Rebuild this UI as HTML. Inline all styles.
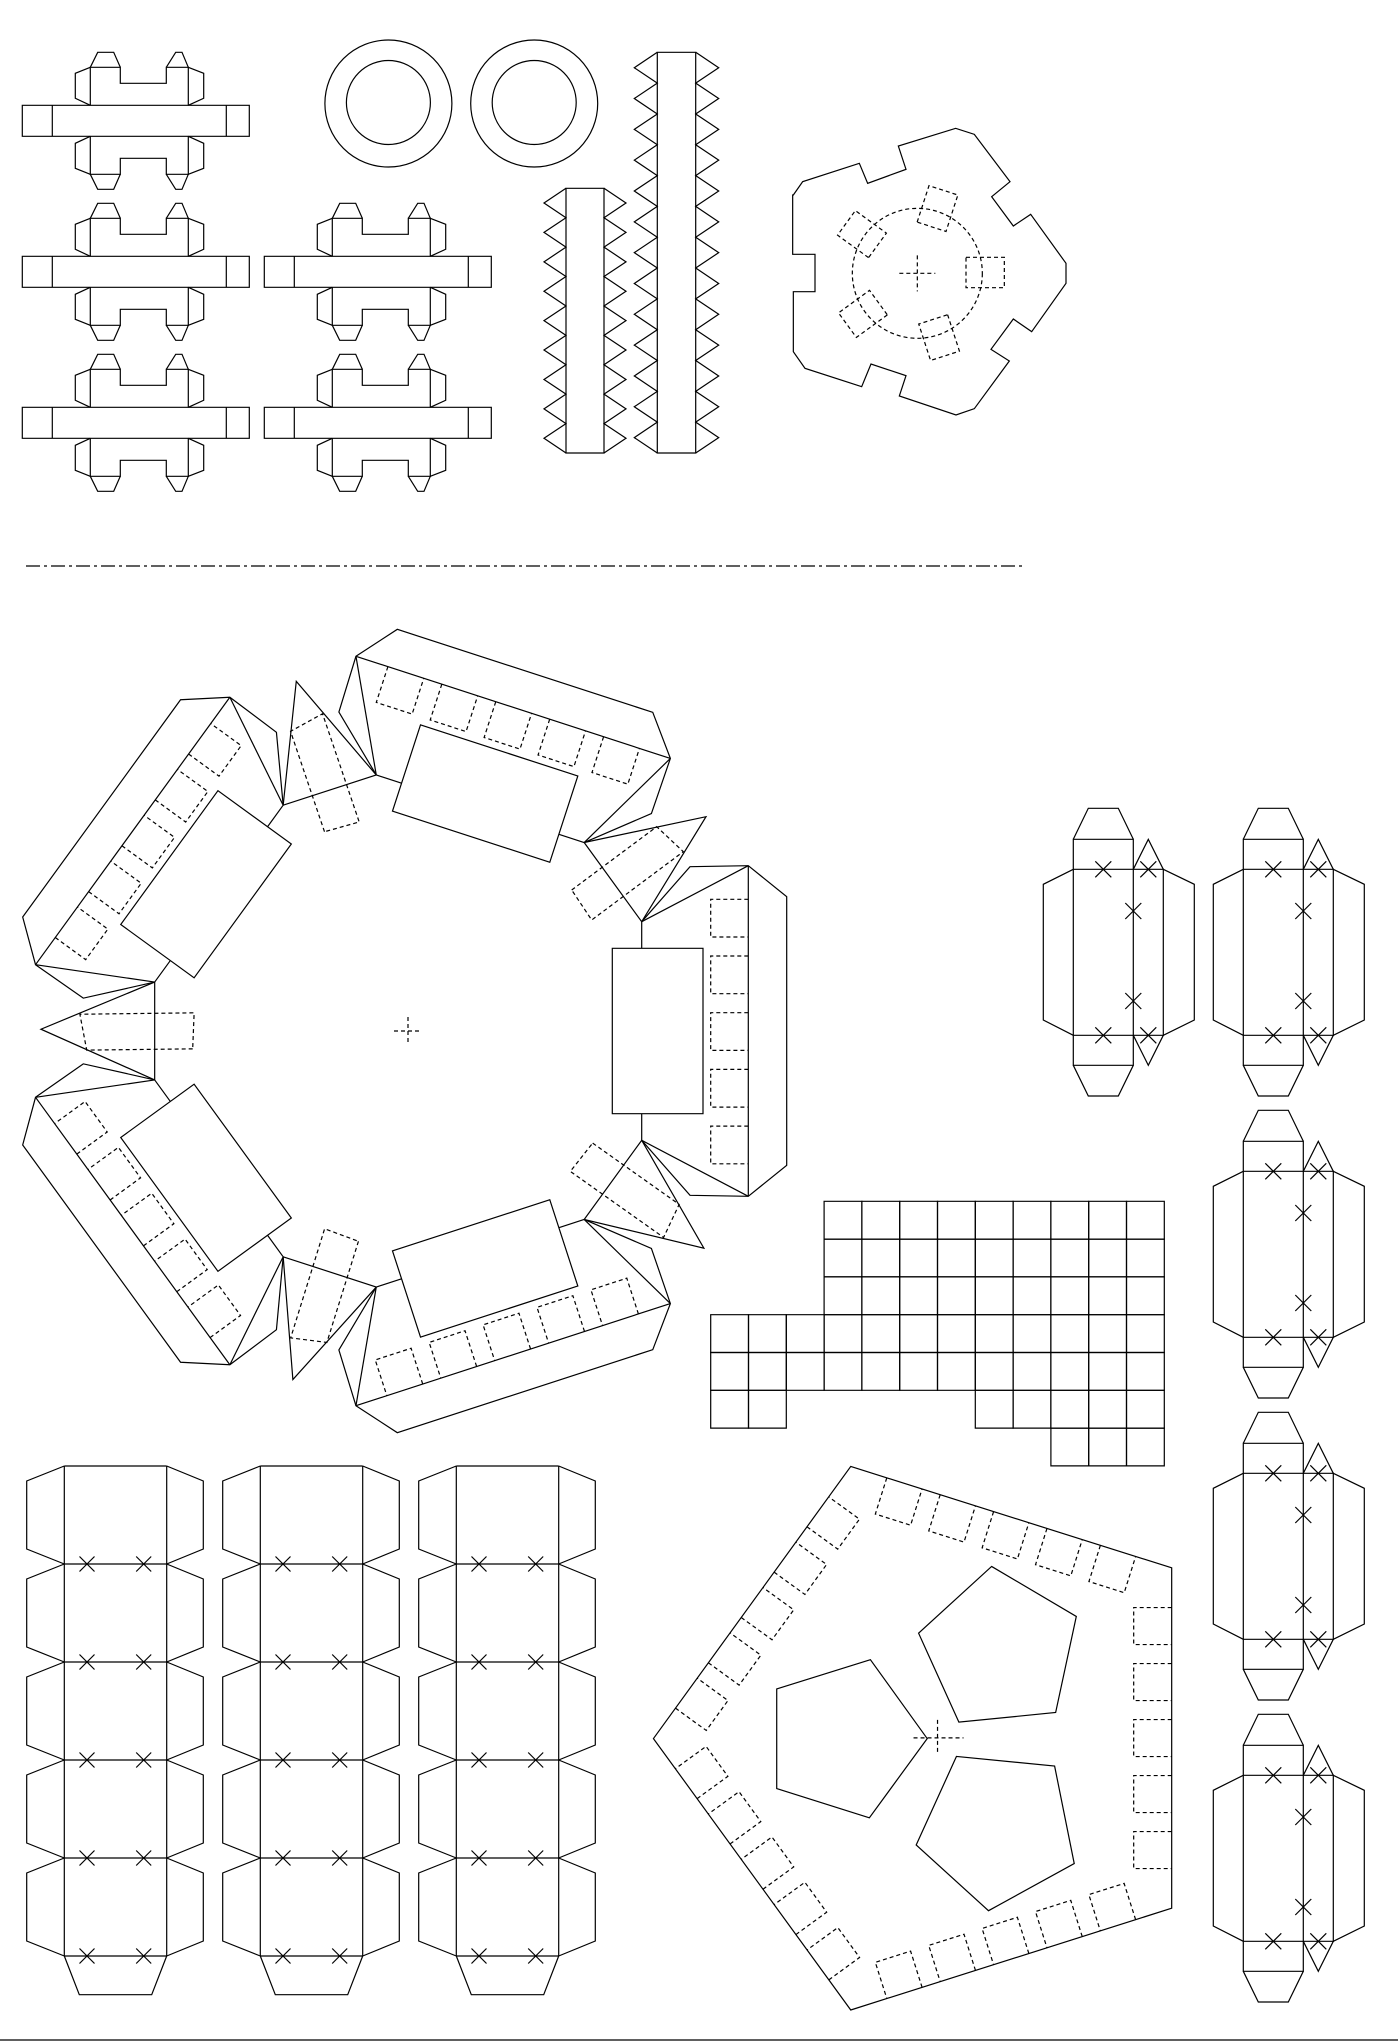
<!DOCTYPE html>
<html><head><meta charset="utf-8"><style>
html,body{margin:0;padding:0;background:#fff;width:1398px;height:2041px;overflow:hidden}
svg{display:block}
</style></head><body>
<svg id="s" xmlns="http://www.w3.org/2000/svg" width="1398" height="2041" viewBox="0 0 1398 2041"></svg>
<script>
var out=[];
function f(n){return (+n).toFixed(2);}
function poly(pts,closed,dash,tr){
  var d=pts.map(function(p){return f(p[0])+','+f(p[1]);}).join(' ');
  out.push('<'+(closed?'polygon':'polyline')+' points="'+d+'"'+(dash?' stroke-dasharray="4,3"':'')+(tr?' transform="'+tr+'"':'')+'/>');
}
function line(x1,y1,x2,y2,dash,tr){poly([[x1,y1],[x2,y2]],false,dash,tr);}
function X(x,y,r){r=r||7.5;line(x-r,y-r,x+r,y+r);line(x-r,y+r,x+r,y-r);}

/* H shapes */
function H(ox,oy){
  function T(pts){return pts.map(function(p){return [p[0]+ox,p[1]+oy];});}
  function M(pts){return pts.map(function(p){return [p[0],241.6-p[1]];});}
  poly(T([[22.3,105.3],[249.3,105.3],[249.3,136.3],[22.3,136.3]]),true);
  poly(T([[52.3,105.3],[52.3,136.3]]));poly(T([[226.3,105.3],[226.3,136.3]]));
  var top=[[[90.3,105.3],[90.3,67.3],[120.3,67.3],[120.3,83.3],[166.3,83.3],[166.3,67.3],[188.3,67.3],[188.3,105.3]],
   [[90.3,67.3],[97.7,52.3],[113.7,52.3],[120.3,67.3]],
   [[166.3,67.3],[175.7,52.3],[182,52.3],[188.3,67.3]],
   [[90.3,67.3],[75.3,73.3],[75.3,98.3],[90.3,105.3]],
   [[188.3,67.3],[203.7,73.3],[203.7,98.3],[188.3,105.3]]];
  top.forEach(function(p){poly(T(p));poly(T(M(p)));});
}
[[0,0],[0,151],[242,151],[0,302],[242,302]].forEach(function(o){H(o[0],o[1]);});

/* rings */
out.push('<circle cx="388.4" cy="103.5" r="63.5"/><circle cx="388.4" cy="102.5" r="42"/>');
out.push('<circle cx="534.2" cy="103.5" r="63.5"/><circle cx="534.2" cy="102.5" r="42"/>');

/* zigzag strips */
function zig(x1,x2,y1,y2,n,out1){
  poly([[x1,y1],[x2,y1],[x2,y2],[x1,y2]],true);
  var p=(y2-y1)/n,L=[],R=[];
  for(var i=0;i<n;i++){var a=y1+i*p;
    L.push([x1,a],[x1-out1,a+p/2]);R.push([x2,a],[x2+out1,a+p/2]);}
  L.push([x1,y2]);R.push([x2,y2]);poly(L);poly(R);
}
zig(657.3,695.7,52.3,453,13,23);
zig(566,604,188.3,453,9,22);

/* gear */
var g=[[40,225],[68,185],[238,130],[263,190],[378,148],[355,78],[527,25],[583,43],[690,185],[635,230],[700,318],[752,283],[858,430],[858,490],[755,635],[700,597],[633,688],[688,723],[583,866],[528,885],[358,828],[378,767],[273,732],[245,800],[75,745],[40,695],[40,515],[105,515],[105,403],[38,403],[38,225]];
poly(g.map(function(p){return [780+p[0]/3,120+p[1]/3];}),true);
var gc=[780+412/3,120+460/3];
out.push('<circle cx="'+f(gc[0])+'" cy="'+f(gc[1])+'" r="65" stroke-dasharray="4,3"/>');
line(gc[0]-18,gc[1],gc[0]+18,gc[1],true);line(gc[0],gc[1]-18,gc[0],gc[1]+18,true);
[0,-72,-144,144,72].forEach(function(a){
  poly([[780+558/3,120+412/3],[780+673/3,120+412/3],[780+673/3,120+503/3],[780+558/3,120+503/3]],true,true,'rotate('+a+' '+f(gc[0])+' '+f(gc[1])+')');
});

/* dash-dot line */
out.push('<line x1="26" y1="566" x2="1022" y2="566" stroke-dasharray="14,4,3,4"/>');
/* bottom line */
line(0,2040,1398,2040);

/* big ring */
var cx=408,cy=1031;
function rot(p,a){var r=a*Math.PI/180,c=Math.cos(r),s=Math.sin(r);return [p[0]*c-p[1]*s,p[0]*s+p[1]*c];}
for(var k=0;k<5;k++){
  var tr='translate('+cx+' '+cy+') rotate('+(-72*k)+')';
  poly([[233.7,-109.3],[282,-164.3],[340.3,-165.3],[378.7,-134.3],[378.7,134.3],[340.3,165.3],[282,164.3],[233.7,109.3]],false,false,tr);
  line(233.7,-109.3,340.3,-165.3,false,tr);line(233.7,109.3,340.3,165.3,false,tr);
  line(340.3,-165.3,340.3,165.3,false,tr);
  poly([[204.3,-82.7],[295,-82.7],[295,82.7],[204.3,82.7]],true,false,tr);
  line(233.7,-109.3,233.7,-82.7,false,tr);line(233.7,82.7,233.7,109.3,false,tr);
  for(var i=0;i<5;i++){var y=-131.7+i*56.7;
    poly([[340.3,y],[302.7,y],[302.7,y+37.7],[340.3,y+37.7]],false,true,tr);}
  var P=rot([233.7,109.3],-72);
  poly([P,[298,-214.3],[233.7,-109.3]],true,false,tr);
  poly([[163.7,-141],[248.7,-204.3],[275.3,-179.3],[183.7,-111]],true,true,tr);
}
line(cx-14,cy,cx+14,cy,true);line(cx,cy-14,cx,cy+14,true);

/* grid */
var gx0=710.7,gy0=1201.3,cs=37.8;
function cell(c,r){poly([[gx0+c*cs,gy0+r*cs],[gx0+(c+1)*cs,gy0+r*cs],[gx0+(c+1)*cs,gy0+(r+1)*cs],[gx0+c*cs,gy0+(r+1)*cs]],true);}
for(var r=0;r<3;r++)for(var c=3;c<12;c++)cell(c,r);
for(var r=3;r<5;r++)for(var c=0;c<12;c++)cell(c,r);
[0,1,7,8,9,10,11].forEach(function(c){cell(c,5);});
[9,10,11].forEach(function(c){cell(c,6);});

/* pentagon */
var KX=2.904,KY=2.8;
function Z(p){return [650+p[0]/KX,1460+p[1]/KY];}
var pv=[[583,18],[1515,302],[1515,1255],[583,1540],[10,780]].map(Z);
poly(pv,true);
var pc=[0,0];pv.forEach(function(p){pc[0]+=p[0]/5;pc[1]+=p[1]/5;});
for(var e=0;e<5;e++){
  var A=pv[e],B=pv[(e+1)%5],dx=B[0]-A[0],dy=B[1]-A[1],Ln=Math.hypot(dx,dy),u=[dx/Ln,dy/Ln];
  var n=[-u[1],u[0]];var mx=(A[0]+B[0])/2-pc[0],my=(A[1]+B[1])/2-pc[1];if(n[0]*mx+n[1]*my>0){n=[-n[0],-n[1]];}
  var w=37,d=38,s=56,t0=(Ln-(4*s+w))/2;
  for(var i=0;i<5;i++){var t=t0+i*s;
    var p1=[A[0]+u[0]*t,A[1]+u[1]*t],p2=[A[0]+u[0]*(t+w),A[1]+u[1]*(t+w)];
    poly([p1,[p1[0]+n[0]*d,p1[1]+n[1]*d],[p2[0]+n[0]*d,p2[1]+n[1]*d],p2],false,true);}
}
poly([[368,641],[640,559],[805,780],[637,1002],[368,920]].map(Z),true);
poly([[992,298],[1238,438],[1178,707],[897,734],[780,485]].map(Z),true);
poly([[890,830],[1175,857],[1232,1130],[983,1262],[773,1078]].map(Z),true);
var cc=Z([835,778]);
line(cc[0]-24,cc[1],cc[0]+26,cc[1],true);line(cc[0],cc[1]-18,cc[0],cc[1]+17,true);

/* bottom-left strips */
function strip(ox){
  var ys=[1466,1564,1662,1760,1858,1956];
  function T(p){return p.map(function(q){return [q[0]+ox,q[1]];});}
  poly(T([[64.3,1466],[166.7,1466]]));
  poly(T([[64.3,1466],[64.3,1956]]));poly(T([[166.7,1466],[166.7,1956]]));
  for(var i=0;i<5;i++){var a=ys[i],b=ys[i+1];
    poly(T([[64.3,a],[26.7,a+15],[26.7,b-15],[64.3,b]]));
    poly(T([[166.7,a],[203.3,a+15],[203.3,b-15],[166.7,b]]));
    poly(T([[64.3,b],[166.7,b]]));
    X(87+ox,b);X(143.7+ox,b);}
  poly(T([[64.3,1956],[79.3,1994.7],[151.7,1994.7],[166.7,1956]]));
}
[0,196,392].forEach(strip);

/* right boxes */
function box(ox,oy){
  function T(p){return p.map(function(q){return [q[0]+ox,q[1]+oy];});}
  poly(T([[1073.3,839.3],[1133.3,839.3],[1133.3,1065.3],[1073.3,1065.3]]),true);
  poly(T([[1073.3,869.3],[1163.3,869.3],[1163.3,1035.3],[1073.3,1035.3]]));
  poly(T([[1073.3,839.3],[1088.3,808.3],[1118.3,808.3],[1133.3,839.3]]));
  poly(T([[1073.3,1065.3],[1088.3,1096],[1118.3,1096],[1133.3,1065.3]]));
  poly(T([[1073.3,869.3],[1043.3,884.3],[1043.3,1020],[1073.3,1035.3]]));
  poly(T([[1163.3,869.3],[1194.3,884.3],[1194.3,1020],[1163.3,1035.3]]));
  poly(T([[1133.3,869.3],[1148.3,839.3],[1163.3,869.3]]));
  poly(T([[1133.3,1035.3],[1148.3,1065.3],[1163.3,1035.3]]));
  [[1103.3,869.3],[1148.3,869.3],[1133.3,911],[1133.3,1001],[1103.3,1035.3],[1148.3,1035.3]].forEach(function(p){X(p[0]+ox,p[1]+oy,8);});
}
[[0,0],[170,0],[170,302],[170,604],[170,906]].forEach(function(o){box(o[0],o[1]);});

document.getElementById('s').innerHTML='<g fill="none" stroke="#000" stroke-width="1.2">'+out.join('')+'</g>';
</script>
</body></html>
